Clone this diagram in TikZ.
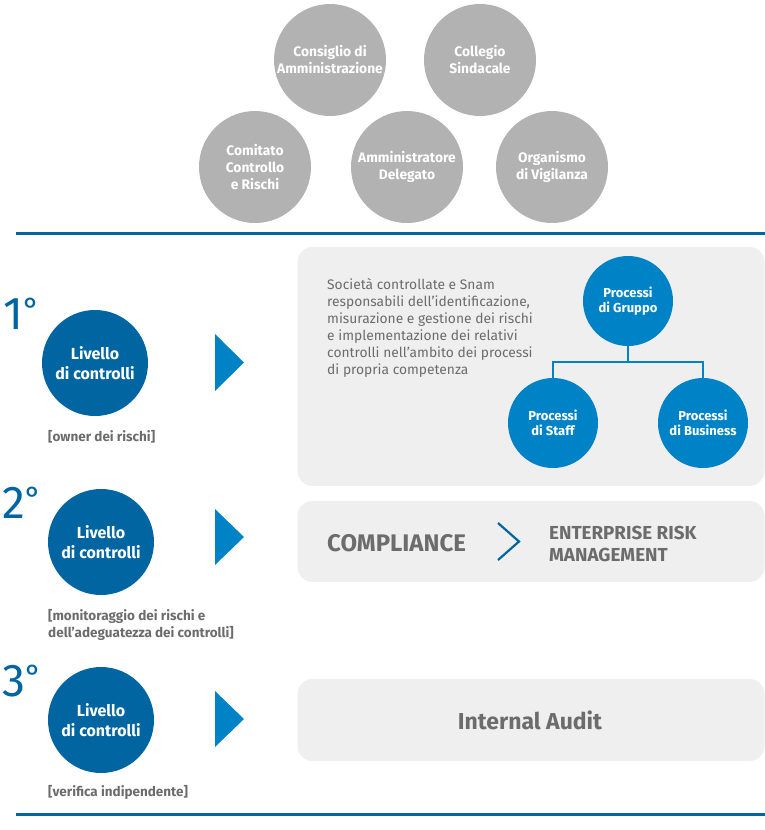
\documentclass[tikz,border=0pt]{standalone}
\usepackage{fontspec}
\setmainfont{Fira Sans}
\usetikzlibrary{positioning,calc}
\definecolor{snamblue}{RGB}{0,101,160}
\definecolor{lightblue}{RGB}{0,131,198}
\definecolor{boardgray}{RGB}{178,178,178}
\definecolor{panelgray}{RGB}{239,239,239}
\definecolor{textgray}{RGB}{108,108,108}

\begin{document}
\begin{tikzpicture}[
  x=1pt,y=-1pt,
  organ/.style={
    circle,
    fill=boardgray,
    minimum size=112pt,
    inner sep=0pt,
    align=center,
    text=white,
    font=\fontsize{13.8}{17}\selectfont\bfseries
  },
  levelnode/.style={
    circle,
    fill=snamblue,
    minimum size=106pt,
    inner sep=0pt,
    align=center,
    text=white,
    font=\fontsize{16}{20}\selectfont\bfseries
  },
  proc/.style={
    circle,
    fill=lightblue,
    minimum size=90pt,
    inner sep=0pt,
    align=center,
    text=white,
    font=\fontsize{13}{15.5}\selectfont\bfseries
  },
  panel/.style={fill=panelgray,rounded corners=15pt,inner sep=0pt},
  degree/.style={text=snamblue,font=\fontsize{46}{46}\selectfont,inner sep=0pt},
  note/.style={text=textgray,align=left,inner sep=0pt,
    font=\fontsize{13.5}{17}\selectfont\bfseries},
  rule/.style={snamblue,line width=3pt},
  pointer/.style={fill=lightblue}
]
\useasboundingbox (0,0) rectangle (765,830);

% board circles
\node[organ] (cda) at (330,60) {Consiglio di\\Amministrazione};
\node[organ] (cs) at (480,60) {Collegio\\Sindacale};
\node[organ] (ccr) at (255,167) {Comitato\\Controllo\\e Rischi};
\node[organ] (ad) at (407,167) {Amministratore\\Delegato};
\node[organ] (odv) at (552,167) {Organismo\\di Vigilanza};

\draw[rule] (16,233) -- (765,233);
\draw[rule] (16,814) -- (765,814);

% first level
\node[degree,anchor=north west] (d1) at (3,298)
  {1\raisebox{9pt}{\fontsize{32}{32}\selectfont\textdegree}};
\node[levelnode] (l1) at (95,363) {Livello\\di controlli};
\node[note,anchor=west] (n1) at (48,437) {[owner dei rischi]};
\fill[pointer] (215,334) -- (244,362.5) -- (215,391) -- cycle;
\node[panel,minimum width=467pt,minimum height=239pt] (p1) at (531,366.5) {};
\node[anchor=north west,align=left,inner sep=0pt,text=textgray,
  font=\fontsize{13.8}{17}\selectfont] (desc) at (327,278)
  {Società controllate e Snam\\responsabili dell’identificazione,\\
   misurazione e gestione dei rischi\\e implementazione dei relativi\\
   controlli nell’ambito dei processi\\di propria competenza};
\coordinate (fork) at (628,362);
\node[proc] (gruppo) at (628,301) {Processi\\di Gruppo};
\node[proc] (staff) at (553,423) {Processi\\di Staff};
\node[proc] (business) at (703,423) {Processi\\di Business};
\draw[lightblue,line width=2.5pt] (gruppo.south) -- (fork) -| (staff.north);
\draw[lightblue,line width=2.5pt] (fork) -| (business.north);

% second level
\node[degree,anchor=north west] (d2) at (2,487)
  {2\raisebox{9pt}{\fontsize{32}{32}\selectfont\textdegree}};
\node[levelnode] (l2) at (101,542) {Livello\\di controlli};
\node[note,anchor=north west] (n2) at (48,609)
  {[monitoraggio dei rischi e\\dell’adeguatezza dei controlli]};
\fill[pointer] (215,509) -- (244,537) -- (215,565) -- cycle;
\node[panel,minimum width=467pt,minimum height=81pt] (p2) at (531,541.5) {};
\node[anchor=west,inner sep=0pt,text=textgray,
  font=\fontsize{24}{26}\selectfont\bfseries] (comp) at (327,543) {COMPLIANCE};
\draw[snamblue,line width=2.2pt] (498,523) -- (519,541.5) -- (498,560);
\node[anchor=west,align=left,inner sep=0pt,text=textgray,
  font=\fontsize{18.8}{22}\selectfont\bfseries] (erm) at (549,544)
  {ENTERPRISE RISK\\MANAGEMENT};

% third level
\node[degree,anchor=north west] (d3) at (2,665)
  {3\raisebox{9pt}{\fontsize{32}{32}\selectfont\textdegree}};
\node[levelnode] (l3) at (101,720) {Livello\\di controlli};
\node[note,anchor=west] (n3) at (48,792) {[verifica indipendente]};
\fill[pointer] (215,691) -- (244,719) -- (215,747) -- cycle;
\node[panel,minimum width=467pt,minimum height=82pt] (p3) at (531,720) {};
\node[text=textgray,font=\fontsize{23}{26}\selectfont\bfseries] (ia)
  at (530,720) {Internal Audit};
\end{tikzpicture}
\end{document}
